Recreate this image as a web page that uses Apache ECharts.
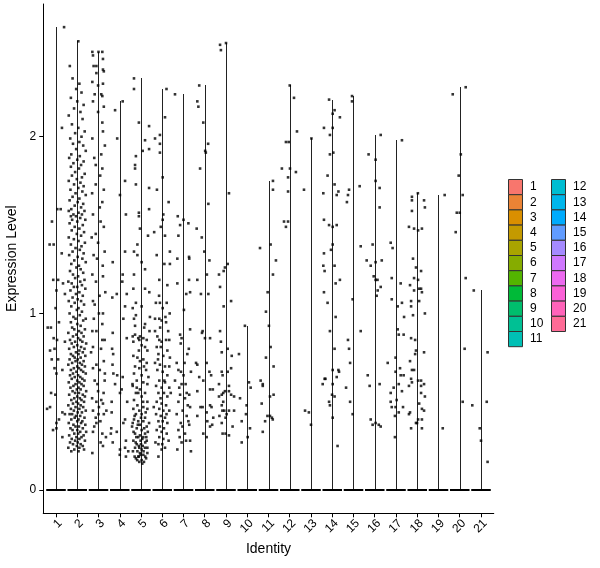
<!DOCTYPE html>
<html>
<head>
<meta charset="utf-8">
<script src="https://cdn.jsdelivr.net/npm/echarts@6/dist/echarts.min.js"></script>
<style>html,body{margin:0;padding:0;background:#fff}#chart{width:600px;height:568px}</style>
</head>
<body>
<div id="chart"></div>
<script>
const identities = ['1','2','3','4','5','6','7','8','9','10','11','12','13','14','15','16','17','18','19','20','21'];
const yTicks = [0, 1, 2];
const xTitle = 'Identity';
const yTitle = 'Expression Level';

// Each point: [horizontal jitter (category units), expression level]
const pts1 = [[0.38,2.62],[0.28,2.05],[0.22,1.59],[0.06,1.59],[-0.19,1.52],[-0.3,1.39],[-0.11,1.39],[0.27,1.34],[0.33,1.17],[0.1,1.19],[-0.13,1.19],[0.02,1.13],[0.42,1.11],[-0.02,1.03],[0.14,0.95],[-0.39,0.92],[-0.24,0.92],[-0.11,0.86],[0.05,0.85],[0.42,0.84],[-0.07,0.8],[-0.28,0.79],[-0.2,0.74],[0.1,0.74],[-0.07,0.69],[0.3,0.68],[0.02,0.66],[-0.23,0.55],[-0.03,0.54],[-0.28,0.47],[-0.42,0.46],[0.3,0.44],[0.42,0.43],[0.14,0.4],[0.02,0.38],[0.02,0.35],[-0.14,0.34],[0.3,0.3]];
const pts2 = [[0.05,2.54],[-0.35,2.40],[-0.22,2.33],[0.1,2.30],[-0.05,2.27],[0.2,2.25],[-0.3,2.22],[0.0,2.2],[0.3,2.18],[-0.15,2.16],[0.15,2.14],[-0.4,2.12],[0.25,2.1],[-0.25,2.07],[0.05,2.05],[0.35,2.03],[-0.1,2.02],[0.2,2.0],[-0.33,1.99],[0.1,1.97],[-0.2,1.96],[0.28,1.95],[-0.05,1.93],[0.4,1.92],[-0.28,1.9],
[0.12,1.89],[-0.38,1.88],[0.0,1.87],[0.3,1.86],[-0.18,1.85],[0.18,1.84],[-0.3,1.83],[0.08,1.82],[-0.1,1.8],[0.35,1.79],[-0.25,1.78],[0.22,1.77],[-0.02,1.76],[-0.4,1.75],[0.15,1.74],[-0.15,1.73],[0.3,1.72],[0.05,1.71],[-0.32,1.7],[0.24,1.69],[-0.08,1.68],[0.4,1.67],[-0.22,1.66],[0.1,1.65],[-0.36,1.64],[0.02,1.63],[0.28,1.62],[-0.12,1.61],[0.18,1.6],[-0.28,1.59],[-0.4,1.58],[0.34,1.58],[0.06,1.57],[-0.18,1.56],[0.22,1.56],[-0.06,1.55],[-0.3,1.55],[0.14,1.54],[0.38,1.53],[-0.24,1.53],
[0.0,1.52],[-0.36,1.51],[0.26,1.5],[-0.12,1.49],[0.1,1.48],[-0.26,1.47],[0.32,1.46],[-0.02,1.45],[0.18,1.44],[-0.4,1.43],[-0.16,1.42],[0.06,1.41],[0.36,1.4],[-0.3,1.39],[0.2,1.38],[-0.08,1.37],[0.12,1.36],[-0.22,1.35],[0.3,1.34],[-0.38,1.33],[0.02,1.32],[0.24,1.31],[-0.14,1.3],[0.4,1.29],[-0.28,1.28],[0.08,1.27],[-0.04,1.26],[0.16,1.25],[-0.34,1.24],[0.28,1.23],[-0.2,1.22],[0.04,1.21],[-0.1,1.2],[0.34,1.19],[-0.42,1.18],[0.14,1.18],[-0.26,1.17],[0.22,1.16],[0.0,1.15],[-0.16,1.15],
[0.38,1.14],[-0.32,1.13],[0.1,1.12],[-0.06,1.11],[0.26,1.1],[-0.22,1.09],[0.02,1.08],[-0.4,1.07],[0.18,1.07],[-0.12,1.06],[0.32,1.05],[-0.28,1.04],[0.06,1.03],[-0.02,1.02],[0.22,1.01],[-0.36,1.0],[0.12,0.99],[-0.18,0.98],[0.4,0.97],[-0.08,0.97],[0.28,0.96],[-0.3,0.95],[0.0,0.94],[0.16,0.93],[-0.24,0.92],[0.36,0.91],[-0.14,0.91],[0.08,0.9],[-0.42,0.89],[0.2,0.89],[-0.04,0.88],[0.3,0.87],[-0.2,0.87],[0.04,0.86],[-0.34,0.85],[0.14,0.85],[-0.1,0.84],[0.24,0.84],[0.42,0.83],[-0.26,0.83],[0.0,0.82],[-0.16,0.81],[0.18,0.81],[0.34,0.8],[-0.38,0.8],[0.1,0.79],[-0.06,0.78],[0.26,0.78],[-0.3,0.77],[0.06,0.77],[-0.2,0.76],[0.38,0.76],[0.16,0.75],[-0.12,0.75],
[0.02,0.74],[-0.36,0.74],[0.3,0.73],[-0.08,0.73],[0.12,0.72],[-0.24,0.72],[0.22,0.71],[-0.42,0.71],[0.0,0.7],[0.36,0.7],[-0.16,0.69],[0.08,0.69],[-0.3,0.68],[0.18,0.68],[-0.04,0.67],[0.28,0.67],[-0.2,0.66],[0.4,0.66],[0.04,0.65],[-0.34,0.65],[0.14,0.64],[-0.12,0.64],[0.24,0.63],[-0.26,0.63],[0.0,0.62],[0.34,0.62],[-0.4,0.61],[0.1,0.61],[-0.08,0.6],[0.2,0.6],[-0.18,0.59],[0.3,0.59],[0.06,0.58],[-0.32,0.58],[-0.02,0.57],[0.16,0.57],[0.42,0.56],[-0.22,0.56],[0.08,0.55],[-0.1,0.55],[0.26,0.54],[-0.38,0.54],[0.0,0.53],[0.36,0.53],[-0.14,0.52],[0.12,0.52],[-0.28,0.51],[0.2,0.51],[-0.04,0.5],[0.32,0.5],[-0.2,0.49],[0.04,0.49],[-0.42,0.48],[0.16,0.48],[-0.08,0.47],[0.28,0.47],[-0.3,0.46],[0.1,0.46],[0.4,0.45],[-0.16,0.45],[0.02,0.44],[0.22,0.44],[-0.24,0.43],[-0.36,0.43],[0.14,0.42],[-0.06,0.42],[0.34,0.41],[-0.12,0.41],[0.06,0.4],[-0.28,0.4],[0.24,0.39],[0.0,0.39],[-0.4,0.38],[0.18,0.38],[-0.18,0.37],[0.38,0.37],[0.08,0.36],[-0.08,0.36],[-0.32,0.35],[0.26,0.35],[0.0,0.34],[-0.22,0.34],[0.14,0.33],[0.42,0.33],[-0.14,0.32],[0.04,0.32],[-0.38,0.31],[0.3,0.31],[-0.04,0.3],[0.2,0.3],[-0.26,0.29],[0.1,0.29],[-0.1,0.28],[0.36,0.28],[-0.34,0.27],[0.02,0.27],[0.16,0.26],[-0.2,0.26],[0.26,0.25],[-0.02,0.25],[-0.42,0.24],[0.1,0.24],[0.32,0.23],[-0.14,0.23],[0.06,0.22],[-0.28,0.22]];
const pts3 = [[0.0,2.48],[-0.29,2.48],[-0.26,2.46],[0.18,2.48],[0.21,2.44],[-0.23,2.4],[-0.1,2.4],[0.21,2.38],[0.25,2.37],[-0.1,2.36],[-0.29,2.31],[0.21,2.3],[-0.02,2.29],[-0.18,2.24],[0.13,2.24],[0.18,2.23],[-0.26,2.2],[0.25,2.17],[-0.02,2.14],[0.18,2.08],[0.21,2.03],[-0.29,1.99],[0.3,1.95],[0.13,1.9],[-0.2,1.88],[-0.13,1.84],[0.18,1.82],[0.08,1.78],[-0.13,1.73],[0.25,1.7],[-0.3,1.68],[0.18,1.63],[0.06,1.6],[-0.26,1.56],[0.1,1.52],[0.25,1.49],[-0.13,1.45],[-0.32,1.43],[-0.02,1.4],[0.29,1.35],[-0.23,1.33],[-0.07,1.31],[0.2,1.27],[-0.29,1.22],[0.21,1.21],[-0.12,1.18],[0.32,1.12],[0.05,1.1],[-0.26,1.07],[-0.18,1.05],[0.21,1.0],[0.02,1.0],[-0.22,0.97],[0.18,0.94],[-0.29,0.9],[-0.1,0.9],[0.29,0.85],[0.18,0.85],[-0.26,0.81],[0.12,0.8],[-0.35,0.78],[0.25,0.73],[-0.1,0.71],[-0.26,0.69],[0.06,0.68],[0.3,0.66],[0.29,0.62],[-0.18,0.62],[-0.05,0.6],[-0.02,0.56],[0.24,0.55],[-0.3,0.52],[0.13,0.51],[-0.1,0.5],[0.21,0.49],[0.02,0.47],[-0.26,0.45],[0.37,0.45],[0.25,0.43],[0.0,0.43],[-0.13,0.41],[0.09,0.39],[-0.1,0.38],[-0.2,0.36],[-0.26,0.33],[0.18,0.32],[0.35,0.3],[0.1,0.27],[0.21,0.25],[-0.29,0.21]];
const pts4 = [[0.14,2.2],[-0.22,2.15],[-0.12,1.99],[0.25,1.75],[0.01,1.67],[0.29,1.56],[0.25,1.35],[-0.33,1.29],[0.14,1.22],[0.12,1.18],[-0.35,1.09],[-0.14,1.11],[0.33,1.11],[0.25,1.04],[0.17,0.97],[-0.33,0.89],[0.33,0.86],[-0.36,0.8],[-0.31,0.77],[-0.34,0.71],[-0.3,0.66],[-0.12,0.65],[0.14,0.64],[-0.22,0.6],[0.09,0.57],[0.01,0.55],[0.35,0.5],[-0.38,0.5],[0.25,0.4],[-0.38,0.44],[0.17,0.38],[-0.14,0.33],[-0.42,0.32],[-0.4,0.35],[0.29,0.28],[-0.33,0.27],[0.25,0.24],[0.01,0.23],[0.4,0.22],[0.0,0.2],[0.29,0.19]];
const pts5 = [[-0.33,2.33],[-0.33,2.27],[-0.1,2.08],[0.38,2.06],[0.19,1.98],[0.08,1.92],[0.38,1.93],[-0.24,1.89],[-0.28,1.84],[-0.28,1.82],[-0.24,1.73],[0.38,1.71],[0.38,1.59],[-0.1,1.57],[-0.1,1.55],[-0.05,1.48],[0.33,1.44],[-0.17,1.39],[-0.33,1.35],[-0.17,1.33],[0.03,1.29],[-0.33,1.22],[0.19,1.25],[-0.36,1.14],[0.19,1.14],[0.39,1.12],[-0.24,1.06],[-0.39,1.03],[0.03,1.04],[-0.24,0.99],[-0.33,0.97],[0.19,0.94],[0.42,0.98],
[-0.39,0.87],[-0.28,0.88],[-0.13,0.86],[-0.05,0.87],[0.11,0.86],[0.27,0.85],[-0.36,0.84],[-0.08,0.85],[0.03,0.82],[0.19,0.81],[0.3,0.79],[-0.36,0.76],[-0.17,0.75],[-0.05,0.73],[0.11,0.74],[0.27,0.72],[-0.28,0.7],[-0.08,0.69],[0.14,0.7],[0.24,0.68],[-0.33,0.66],[0.03,0.65],[-0.2,0.62],[0.11,0.61],[0.3,0.6],[-0.39,0.59],[-0.05,0.57],[-0.24,0.55],[-0.13,0.55],[0.19,0.55],[0.03,0.53],[-0.33,0.51],[0.3,0.5],[-0.17,0.48],[0.11,0.47],[-0.36,0.46],[-0.08,0.45],[-0.24,0.43],[0.03,0.43],[0.19,0.41],[-0.33,0.4],[-0.13,0.39],[0.11,0.39],[-0.39,0.38],[-0.05,0.37],[0.27,0.36],[-0.2,0.35],[0.03,0.34],[-0.28,0.32],[0.19,0.32],[-0.13,0.3],[0.11,0.3],[-0.36,0.28],[-0.02,0.28],[0.27,0.28],[-0.2,0.26],[0.08,0.25],[-0.08,0.24],[-0.28,0.24],[0.19,0.24],[0.03,0.23],[-0.17,0.22],[-0.05,0.21],[0.11,0.2],[-0.13,0.19],[0.24,0.18],[-0.24,0.18],[0.03,0.17],[-0.08,0.16],[0.14,0.16],
[-0.3,0.42],[0.22,0.44],[0.0,0.41],[-0.15,0.37],[0.15,0.35],[-0.35,0.33],[0.32,0.33],[-0.05,0.31],[0.06,0.29],[-0.25,0.27],[0.2,0.27],[-0.1,0.25],[0.3,0.24],[-0.38,0.22],[0.12,0.22],[-0.02,0.2],[0.2,0.19],[-0.18,0.17],[0.06,0.15],[-0.1,0.19],[0.3,0.21],[-0.3,0.19],[0.0,0.26],[0.25,0.3],[-0.22,0.3],[0.38,0.38],[-0.42,0.36],[0.1,0.5],[-0.2,0.58],[0.35,0.64],[-0.1,0.79],[0.4,0.9],[-0.28,0.93],[0.15,0.92],[-0.4,0.6],[0.3,0.46]];
const pts6 = [[0.2,2.27],[0.13,2.11],[-0.11,2.01],[-0.34,1.99],[-0.11,1.96],[-0.11,1.91],[0.02,1.77],[0.05,1.56],[0.02,1.53],[-0.07,1.49],[0.13,1.44],[-0.26,1.33],[0.36,1.28],[0.1,1.28],[-0.14,1.19],[0.24,1.16],[-0.15,1.1],[0.02,1.03],[-0.11,1.06],[0.21,1.06],[-0.34,0.97],[-0.14,0.97],[-0.03,0.96],[0.18,0.95],
[-0.34,0.9],[-0.23,0.87],[-0.14,0.85],[-0.03,0.84],[0.18,0.85],[0.33,0.85],[-0.26,0.81],[-0.07,0.81],[0.24,0.79],[-0.18,0.77],[0.05,0.76],[0.36,0.75],[-0.34,0.72],[-0.11,0.71],[0.13,0.7],[0.33,0.7],[-0.23,0.68],[0.02,0.67],[0.24,0.65],[-0.14,0.62],[0.13,0.61],[-0.29,0.59],[-0.03,0.58],[0.33,0.58],[-0.18,0.55],[0.08,0.55],[0.24,0.53],[-0.26,0.5],[-0.03,0.49],[0.18,0.48],[-0.14,0.46],[0.05,0.45],[0.33,0.45],[-0.29,0.43],[-0.07,0.42],[0.13,0.41],[-0.18,0.39],[0.02,0.39],[0.24,0.38],[-0.11,0.36],[0.08,0.35],[-0.26,0.34],[-0.03,0.33],[0.21,0.32],[-0.14,0.3],[0.05,0.29],[-0.18,0.26],[0.13,0.24],[-0.03,0.23],[-0.18,0.19],
[0.4,0.55],[-0.4,0.47],[0.3,0.28],[-0.32,0.27],[0.0,0.26],[0.2,0.43],[-0.08,0.52],[0.1,0.62],[-0.2,0.74],[0.28,0.9],[-0.1,0.92],[0.15,0.98],[0.35,1.0],[-0.3,1.06],[0.36,1.35],[-0.38,1.46],[0.3,1.63],[-0.25,1.7]];
const pts7 = [[-0.4,2.24],[-0.27,1.55],[0,1.53],[-0.16,1.5],[0.23,1.51],[-0.24,1.44],[0.27,1.31],[-0.29,1.31],[0.26,1.32],[-0.29,1.17],[0.26,1.19],[0.13,1.11],[0.31,1.12],[0.02,1.02],[0.31,0.91],[-0.16,0.88],[-0.09,0.86],[-0.13,0.83],[0.18,0.77],[-0.32,0.72],[-0.24,0.68],[-0.12,0.67],[0,0.65],[0.35,0.67],[-0.4,0.62],[-0.09,0.6],[0.15,0.55],[-0.16,0.54],[0.27,0.54],[0.07,0.52],[-0.24,0.5],[0.31,0.47],[-0.04,0.45],[-0.32,0.43],[0.15,0.42],[0.23,0.39],[-0.13,0.38],[0.27,0.37],[-0.24,0.34],[0.07,0.32],[0.31,0.28],[-0.09,0.27],[-0.29,0.23],[0.35,0.22],[0.1,0.6],[-0.2,0.58],[0.2,0.48],[-0.05,0.36],[0.12,0.28],[-0.18,0.3],[0.05,0.72],[0.25,0.8]];
const pts8 = [[-0.26,2.29],[-0.35,2.2],[-0.3,2.17],[-0.07,2.08],[0.16,1.96],[0.05,1.91],[0.02,1.92],[-0.22,1.82],[0.17,1.62],[-0.38,1.48],[-0.14,1.43],[-0.02,1.35],[0.22,1.3],[-0.35,1.19],[0.1,1.22],[-0.18,1.11],[0.17,1.11],[-0.1,0.9],[-0.13,0.89],[0.01,0.86],[0.25,0.86],[-0.41,0.72],[-0.35,0.71],[0.09,0.72],[0.22,0.67],[-0.26,0.64],[-0.07,0.62],[0.3,0.65],[0.25,0.57],[0.38,0.57],[-0.35,0.56],[-0.2,0.47],[-0.1,0.47],[0.32,0.47],[0.25,0.48],[0.09,0.44],[-0.35,0.42],[0.4,0.41],[0.12,0.39],[0.35,0.37],[0.25,0.36],[-0.07,0.32],[0.09,0.3]];
const pts9 = [[0.0,2.53],[-0.28,2.52],[-0.24,2.49],[0.14,1.68],[0.08,1.28],[-0.05,1.26],[-0.11,1.24],[-0.33,1.22],[-0.28,1.15],[0.24,1.07],[-0.11,1.04],[-0.28,0.9],[-0.24,0.84],[-0.2,0.78],[0.08,0.8],[0.27,0.76],[-0.2,0.67],[0.08,0.67],[0.24,0.69],[-0.16,0.65],[-0.33,0.6],[0.14,0.59],[-0.05,0.56],[-0.13,0.55],[-0.2,0.54],[0.14,0.56],[0.24,0.54],[0.38,0.53],[-0.33,0.53],[-0.2,0.48],[-0.13,0.5],[-0.08,0.45],[-0.17,0.45],[0.14,0.45],[0.38,0.45],[-0.02,0.41],[0.03,0.43],[-0.31,0.42],[-0.2,0.38],[0.31,0.36],[-0.16,0.32],[-0.02,0.32],[0.14,0.31]];
const pts10 = [[-0.11,0.93],[-0.39,0.77],[0.08,0.61],[0.16,0.58],[-0.34,0.52],[-0.03,0.48],[-0.06,0.43],[-0.26,0.39],[0.13,0.35],[0.02,0.3],[-0.26,0.27]];
const pts11 = [[0.21,1.75],[0.21,1.7],[-0.4,1.37],[0.1,1.39],[0.35,1.3],[0.21,1.22],[-0.04,1.12],[-0.12,1.01],[0.02,0.93],[0.1,0.81],[-0.12,0.75],[0.24,0.7],[-0.37,0.62],[-0.27,0.6],[-0.27,0.59],[0.07,0.53],[0.24,0.54],[-0.32,0.49],[-0.05,0.42],[0.07,0.42],[0.16,0.41],[0.2,0.4],[-0.16,0.39],[-0.27,0.33]];
const pts12 = [[0.0,2.29],[0.2,2.22],[0.34,2.03],[-0.18,1.97],[-0.05,1.97],[-0.37,1.82],[0.01,1.82],[0.29,1.8],[-0.08,1.77],[-0.08,1.69],[-0.27,1.52],[-0.18,1.49],[-0.08,1.52]];
const pts13 = [[0.02,1.99],[-0.33,1.7],[-0.28,0.45],[-0.1,0.44],[0.0,0.37]];
const pts14 = [[-0.15,2.21],[0.11,2.15],[0.02,2.13],[0.36,2.11],[-0.39,2.05],[0.02,2.05],[-0.11,2.01],[0.05,1.91],[-0.11,1.9],[-0.22,1.78],[0.11,1.73],[0.29,1.69],[0.21,1.67],[-0.42,1.68],[-0.39,1.53],[-0.15,1.5],[0.02,1.49],[0.21,1.5],[0.02,1.39],[-0.06,1.36],[-0.39,1.34],[0.11,1.27],[-0.42,1.27],[-0.36,1.24],[0.36,1.19],[0.16,1.17],[-0.39,1.12],[-0.22,1.06],[0.16,0.98],[-0.11,0.9],[0.11,0.8],[0.02,0.68],[0.29,0.68],[0.32,0.67],[0.21,0.64],[-0.36,0.63],[-0.32,0.63],[-0.45,0.6],[0.02,0.6],[-0.01,0.54],[0.11,0.53],[-0.15,0.5],[-0.11,0.48],[0.02,0.41],[0.25,0.25]];
const pts15 = [[-0.07,2.23],[-0.07,2.2],[0.29,1.72],[-0.21,1.7],[-0.26,1.67],[-0.31,1.63],[0.34,1.38],[-0.04,1.08],[0.34,0.9],[-0.26,0.85],[-0.21,0.8],[-0.16,0.72],[-0.35,0.58],[-0.16,0.5],[-0.04,0.43]];
const pts16 = [[0.28,2.01],[-0.29,1.9],[0.04,1.87],[0.04,1.75],[0.23,1.71],[0.23,1.6],[-0.1,1.39],[-0.38,1.3],[-0.19,1.27],[0.04,1.29],[0.33,1.3],[-0.05,1.21],[0.04,1.19],[0.13,1.19],[0.28,1.15],[0.14,1.13],[0.09,1.1],[-0.33,0.65],[-0.24,0.59],[0.23,0.6],[-0.19,0.4],[-0.1,0.37],[0.04,0.38],[0.19,0.37],[0.28,0.36]];
const pts17 = [[0.28,1.98],[-0.25,1.4],[-0.16,1.37],[-0.2,1.2],[0.22,1.17],[0.08,1.04],[0.28,1.06],[-0.2,1.08],[0.38,0.98],[0.08,0.91],[0.13,0.88],[0.36,0.88],[-0.02,0.75],[-0.39,0.72],[0.19,0.69],[-0.02,0.67],[0.22,0.65],[0.36,0.65],[-0.11,0.58],[0.13,0.6],[-0.25,0.55],[0.28,0.56],[0.03,0.51],[-0.25,0.5],[0.13,0.44],[-0.2,0.47],[-0.02,0.47],[0.33,0.47],[-0.05,0.42],[-0.05,0.3]];
const pts18 = [[0.03,1.68],[-0.25,1.66],[0.32,1.64],[-0.25,1.64],[0.36,1.6],[-0.25,1.58],[-0.39,1.49],[-0.15,1.48],[0.04,1.47],[0.22,1.48],[-0.2,1.31],[-0.06,1.26],[0.18,1.24],[-0.15,1.2],[0.04,1.19],[-0.34,1.16],[0.18,1.14],[0.09,1.14],[-0.15,1.13],[0.22,1.12],[-0.29,1.07],[0.09,1.07],[-0.29,1.04],[0.36,1.0],[-0.2,0.99],[-0.29,0.86],[-0.1,0.85],[-0.06,0.79],[-0.1,0.77],[0.32,0.78],[-0.34,0.73],[-0.25,0.68],[-0.15,0.68],[-0.29,0.63],[0.04,0.62],[0.18,0.62],[0.32,0.6],[-0.39,0.59],[-0.25,0.61],[0.18,0.59],[0.18,0.55],[0.36,0.53],[0.09,0.49],[0.22,0.46],[0.32,0.45],[-0.34,0.44],[-0.39,0.43],[0.04,0.4],[0.22,0.4],[-0.01,0.38],[-0.06,0.38],[-0.29,0.35],[0.22,0.35]];
const pts19 = [[0.29,1.67],[0.2,0.35]];
const pts20 = [[0.28,2.28],[-0.33,2.24],[0.05,1.9],[-0.05,1.78],[0.14,1.67],[-0.14,1.57],[0.0,1.57],[-0.19,1.46],[0.28,1.2],[0.23,0.8],[0.14,0.5]];
const pts21 = [[-0.34,1.13],[0.31,0.78],[0.27,0.5],[-0.41,0.48],[-0.06,0.35],[0.0,0.28],[0.31,0.16]];

const clusterPoints = [pts1,pts2,pts3,pts4,pts5,pts6,pts7,pts8,pts9,pts10,pts11,pts12,pts13,pts14,pts15,pts16,pts17,pts18,pts19,pts20,pts21];

// ggplot2 default hue palette (HCL, c=100, l=65)
function hcl(h, c, l) {
  const hr = h * Math.PI / 180;
  const U = c * Math.cos(hr), V = c * Math.sin(hr);
  const Xn = 95.047, Yn = 100, Zn = 108.883;
  const un = 4 * Xn / (Xn + 15 * Yn + 3 * Zn), vn = 9 * Yn / (Xn + 15 * Yn + 3 * Zn);
  const Y = l > 8 ? Yn * Math.pow((l + 16) / 116, 3) : Yn * l / 903.3;
  const u = U / (13 * l) + un, v = V / (13 * l) + vn;
  const X = Y * 9 * u / (4 * v);
  const Z = Y * (12 - 3 * u - 20 * v) / (4 * v);
  const x = X / 100, y = Y / 100, z = Z / 100;
  const lin = [3.240479 * x - 1.53715 * y - 0.498535 * z,
               -0.969256 * x + 1.875992 * y + 0.041556 * z,
               0.055648 * x - 0.204043 * y + 1.057311 * z];
  const g = lin.map(t => { t = t <= 0.0031308 ? 12.92 * t : 1.055 * Math.pow(t, 1 / 2.4) - 0.055; return Math.round(Math.max(0, Math.min(1, t)) * 255); });
  return '#' + g.map(n => n.toString(16).padStart(2, '0')).join('');
}
const n = identities.length;
const colors = identities.map((_, i) => hcl(15 + 360 * i / n, 100, 65));

const scatterData = [];
clusterPoints.forEach((arr, i) => arr.forEach(p => scatterData.push([i + 1 + p[0], p[1]])));
const violinData = clusterPoints.map((arr, i) => [i + 1, Math.max.apply(null, arr.map(p => p[1]))]);

const allVals = clusterPoints.flat().map(p => p[1]);
const dMax = Math.max.apply(null, allVals), dMin = 0;
const yPad = (dMax - dMin) * 0.05;

const font = 'Liberation Sans, Arial, Helvetica, sans-serif';
const xTickVals = identities.map((_, i) => i + 1);

// legend graphics
const legendEls = [];
identities.forEach((id, i) => {
  const col = i < 11 ? 0 : 1;
  const row = i < 11 ? i : i - 11;
  const kx = col === 0 ? 508.5 : 551.5;
  const ky = 179.5 + row * 15.2;
  legendEls.push({ type: 'rect', shape: { x: kx, y: ky, width: 14, height: 15.2 },
    style: { fill: colors[i], stroke: '#333', lineWidth: 1 }, z: 10 });
  legendEls.push({ type: 'text', x: kx + 21.5, y: ky + 7.6,
    style: { text: id, fill: '#000', font: '12px ' + font, textVerticalAlign: 'middle', textAlign: 'left' }, z: 10 });
});

const chart = echarts.init(document.getElementById('chart'), null, { renderer: 'canvas' });
chart.setOption({
  animation: false,
  backgroundColor: '#fff',
  grid: { left: 43.25, right: 106.25, top: 4, bottom: 54.7, containLabel: false, outerBoundsMode: 'none' },
  xAxis: {
    type: 'value', min: 0.4, max: 21.6,
    axisLine: { show: true, onZero: false, lineStyle: { color: '#000', width: 1 } },
    axisTick: { show: true, customValues: xTickVals, length: 4, lineStyle: { color: '#000', width: 1 } },
    axisLabel: { customValues: xTickVals, formatter: v => identities[Math.round(v) - 1], rotate: 45,
      align: 'right', verticalAlign: 'top', margin: 4, color: '#000', fontSize: 12, fontFamily: font },
    splitLine: { show: false },
    name: xTitle, nameLocation: 'middle', nameGap: 34,
    nameTextStyle: { color: '#000', fontSize: 14, fontFamily: font, verticalAlign: 'middle' }
  },
  yAxis: {
    type: 'value', min: dMin - yPad, max: dMax + yPad,
    axisLine: { show: true, onZero: false, lineStyle: { color: '#000', width: 1 } },
    axisTick: { show: true, customValues: yTicks, length: 4, lineStyle: { color: '#000', width: 1 } },
    axisLabel: { customValues: yTicks, formatter: v => String(v), margin: 7, color: '#000', fontSize: 12, fontFamily: font },
    splitLine: { show: false },
    name: yTitle, nameLocation: 'middle', nameGap: 23, nameRotate: 90,
    nameTextStyle: { color: '#000', fontSize: 14, fontFamily: font, verticalAlign: 'middle' }
  },
  series: [
    {
      type: 'custom',
      data: violinData,
      renderItem: (params, api) => {
        const x = api.value(0), top = api.value(1);
        const p0 = api.coord([x, 0]);
        const p1 = api.coord([x, top]);
        const pl = api.coord([x - 0.46, 0]);
        const pr = api.coord([x + 0.46, 0]);
        const cx = Math.round(p0[0]) + 0.5;
        const by = Math.round(p0[1]);
        return { type: 'group', children: [
          { type: 'line', shape: { x1: cx, y1: by, x2: cx, y2: Math.round(p1[1]) }, style: { stroke: '#222', lineWidth: 1 } },
          { type: 'rect', shape: { x: pl[0], y: by - 1, width: pr[0] - pl[0], height: 2 }, style: { fill: '#000' } }
        ] };
      },
      z: 2
    },
    {
      type: 'scatter',
      data: scatterData,
      symbol: 'rect',
      symbolSize: 2.6,
      itemStyle: { color: '#000' },
      silent: true,
      z: 3
    }
  ],
  graphic: legendEls
});
</script>
</body>
</html>
